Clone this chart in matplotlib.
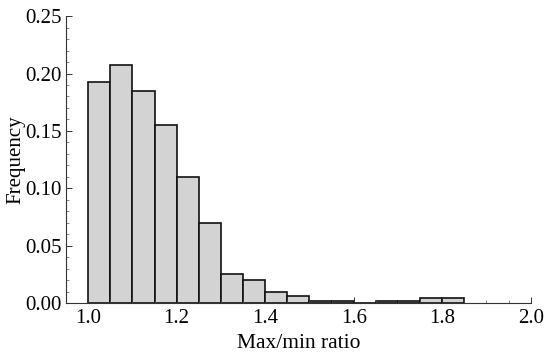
import numpy as np
import matplotlib
matplotlib.use("Agg")
import matplotlib.pyplot as plt
from matplotlib.ticker import MultipleLocator

# ---------------------------
# Datos
# ---------------------------
bin_edges = [1.00, 1.05, 1.10, 1.15, 1.20, 1.25, 1.30, 1.35, 1.40,
             1.45, 1.50, 1.55, 1.60, 1.65, 1.70, 1.75, 1.80, 1.85]
frequencies = [0.193, 0.207, 0.185, 0.155, 0.110, 0.070, 0.025, 0.020,
               0.010, 0.006, 0.002, 0.002, 0.000, 0.002, 0.002, 0.004, 0.004]
x_ticks = [1.0, 1.2, 1.4, 1.6, 1.8, 2.0]
y_ticks = [0.00, 0.05, 0.10, 0.15, 0.20, 0.25]

plt.rcParams["font.family"] = ["Liberation Serif", "DejaVu Serif"]

fig = plt.figure(figsize=(5.5, 3.64), dpi=100)
ax = fig.add_axes([0.12, 0.1676, 0.845, 0.788])

lefts = np.array(bin_edges[:-1])
widths = np.diff(bin_edges)
ax.bar(lefts, frequencies, width=widths, align="edge",
       color="#d3d3d3", edgecolor="#111111", linewidth=1.2)

ax.set_xlim(0.95, 2.0)
ax.set_ylim(0, 0.25)
ax.set_xticks(x_ticks)
ax.set_xticklabels([f"{v:.1f}" for v in x_ticks])
ax.set_yticks(y_ticks)
ax.set_yticklabels([f"{v:.2f}" for v in y_ticks])
ax.xaxis.set_minor_locator(MultipleLocator(0.05))
ax.yaxis.set_minor_locator(MultipleLocator(0.01))

for s in ["top", "right"]:
    ax.spines[s].set_visible(False)
for s in ["left", "bottom"]:
    ax.spines[s].set_linewidth(0.8)
    ax.spines[s].set_color("#333333")

ax.tick_params(which="major", direction="in", length=4, width=0.7,
               labelsize=15, pad=4, color="#333333")
ax.tick_params(axis="y", which="major", pad=3)
ax.tick_params(which="minor", direction="in", length=2, width=0.5,
               color="#555555")

ax.set_xlabel("Max/min ratio", fontsize=15.5, labelpad=5)
ax.set_ylabel("Frequency", fontsize=15, va="center")
ax.yaxis.set_label_coords(-0.108, 0.5)

fig.savefig("out.png", dpi=100)
